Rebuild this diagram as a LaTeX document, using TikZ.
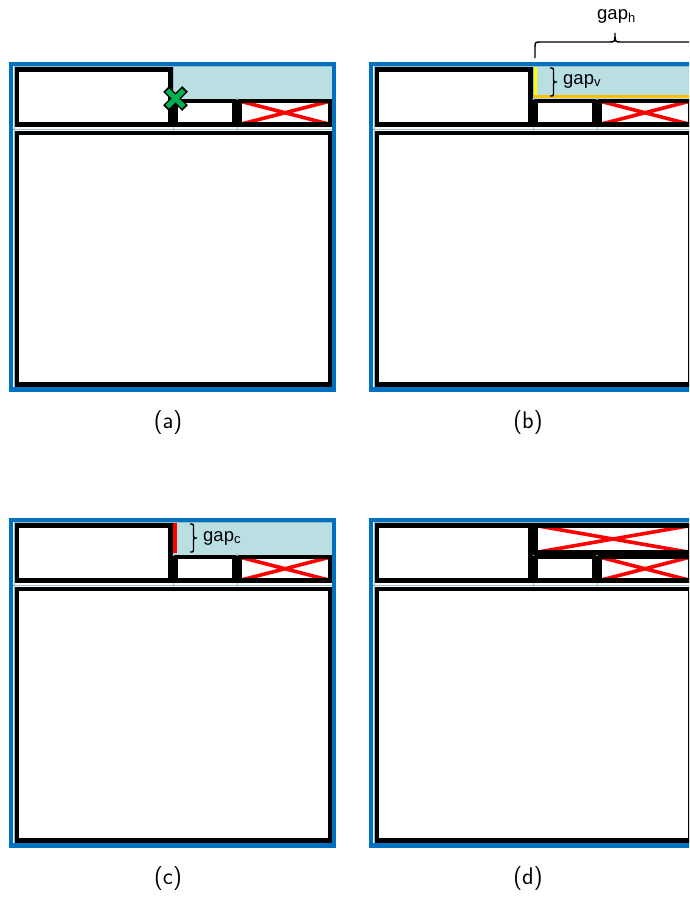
\documentclass[tikz,border=0pt]{standalone}
\usepackage{fontspec}
\newfontfamily\arialf{Liberation Sans}
\definecolor{frameblue}{RGB}{0,112,192}
\definecolor{lightcell}{RGB}{185,223,227}
\definecolor{gridc}{RGB}{150,190,196}
\definecolor{xgreen}{RGB}{0,176,80}
\definecolor{orangeline}{RGB}{255,192,0}
\definecolor{yellowline}{RGB}{255,255,0}
\tikzset{
  panelframe/.style={draw=frameblue,line width=4.5pt},
  box/.style={draw=black,line width=4.5pt,fill=white},
  boxline/.style={draw=black,line width=4.5pt},
  redx/.style={draw=red,line width=3.6pt},
  gridl/.style={draw=gridc,line width=0.8pt},
  bracel/.style={draw=black,line width=1.4pt},
  caplabel/.style={font=\sffamily\fontsize{24}{28}\selectfont,inner sep=0pt},
  gaplabel/.style={font=\arialf\fontsize{18.5}{21}\selectfont,inner sep=0pt,anchor=base west},
}
\newcommand\panelbase[1]{%
  \ifnum#1=1 \fill[lightcell] (173,66) rectangle (333,99);\fi
  \draw[gridl] (14,66.5) rectangle (332,386.5);
  \draw[gridl] (14,129.5) -- (332,129.5) (173.5,66.5) -- (173.5,129.5)
     (237,99) -- (237,129.5) (173.5,99) -- (332,99);
  \draw[box] (17,69.5) rectangle (170.5,124.5);
  \draw[box] (175.5,101) rectangle (234.5,124.5);
  \fill[white] (239.5,101) rectangle (330.5,124.5);
  \draw[redx] (239.5,101) -- (330.5,124.5) (239.5,124.5) -- (330.5,101);
  \draw[boxline] (239.5,101) rectangle (330.5,124.5);
  \draw[box] (17,133) rectangle (330.5,384.5);
  \foreach \p in {(14,129.5),(173.5,129.5),(237,129.5),(173.5,99),(237,99),(173.5,66.5)}
     \fill[gridc] \p circle (1.2);
}
\newcommand\vbrace{%
  \draw[bracel] (190,68) .. controls (193.5,68) .. (193.5,72) -- (193.5,78)
     .. controls (193.5,82) .. (197,82) .. controls (193.5,82) .. (193.5,86)
     -- (193.5,92) .. controls (193.5,96) .. (190,96);
}
\begin{document}
\begin{tikzpicture}[x=1pt,y=-1pt]
\useasboundingbox (0,0) rectangle (689,897);
\clip (0,0) rectangle (689,897);
% panel (a)
\begin{scope}
  \panelbase{1}
  \draw[black,line width=8pt] (166,89) -- (185,108) (166,108) -- (185,89);
  \draw[xgreen,line width=5pt] (167.3,90.3) -- (183.7,106.7) (167.3,106.7) -- (183.7,90.3);
  \draw[panelframe] (11,64) rectangle (334,389.5);
\end{scope}
% panel (b)
\begin{scope}[shift={(360,0)}]
  \panelbase{1}
  \draw[yellowline,line width=3pt] (175.5,66.5) -- (175.5,96);
  \draw[orangeline,line width=3.5pt] (173.5,96.5) -- (335,96.5);
  \vbrace
  \node[gaplabel] (gv) at (203,84) {gap\textsubscript{v}};
  \draw[bracel] (175,58) -- (175,48) .. controls (175,42) .. (181,42) -- (249,42)
     .. controls (255,42) .. (255,33) .. controls (255,42) .. (261,42) -- (329,42)
     .. controls (335,42) .. (335,48) -- (335,58);
  \node[gaplabel] (gh) at (237,19.5) {gap\textsubscript{h}};
  \draw[panelframe] (11,64) rectangle (334,389.5);
\end{scope}
% panel (c)
\begin{scope}[shift={(0,456)}]
  \panelbase{1}
  \draw[red,line width=4pt] (175,67) -- (175,97);
  \vbrace
  \node[gaplabel] (gc) at (203,85) {gap\textsubscript{c}};
  \draw[panelframe] (11,64) rectangle (334,389.5);
\end{scope}
% panel (d)
\begin{scope}[shift={(360,456)}]
  \panelbase{0}
  \fill[white] (175.5,69.5) rectangle (330.5,96.5);
  \draw[redx] (175.5,69.5) -- (330.5,96.5) (175.5,96.5) -- (330.5,69.5);
  \draw[boxline] (175.5,69.5) rectangle (330.5,96.5);
  \draw[panelframe] (11,64) rectangle (334,389.5);
\end{scope}
\node[caplabel] (la) at (168,422.5) {(a)};
\node[caplabel] (lb) at (528,422.5) {(b)};
\node[caplabel] (lc) at (168,878.5) {(c)};
\node[caplabel] (ld) at (528,878.5) {(d)};
\end{tikzpicture}
\end{document}
